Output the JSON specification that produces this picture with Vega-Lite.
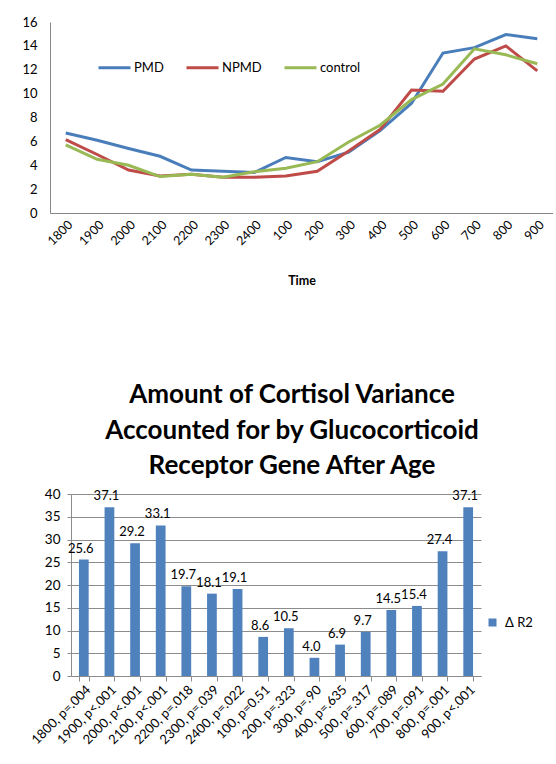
{
  "$schema": "https://vega.github.io/schema/vega-lite/v6.json",
  "padding": {"left": 21, "top": 16, "right": 0, "bottom": 0},
  "background": "white",
  "config": {
    "font": "Lato",
    "view": {"stroke": null},
    "axis": {"labelColor": "#000000", "titleColor": "#000000", "domain": true, "domainWidth": 1, "domainColor": "#8c8c8c", "tickColor": "#8c8c8c", "labelFont": "Lato", "titleFont": "Lato"},
    "legend": {"labelColor": "#000000", "labelFont": "Lato"}
  },
  "resolve": {"scale": {"color": "independent"}, "legend": {"color": "independent"}},
  "spacing": 95,
  "vconcat": [
    {
      "width": 503,
      "height": 191,
      "data": {"values": [
        {"Time": "1800", "Series": "PMD", "Value": 6.7},
        {"Time": "1900", "Series": "PMD", "Value": 6.1},
        {"Time": "2000", "Series": "PMD", "Value": 5.4},
        {"Time": "2100", "Series": "PMD", "Value": 4.75},
        {"Time": "2200", "Series": "PMD", "Value": 3.6},
        {"Time": "2300", "Series": "PMD", "Value": 3.5},
        {"Time": "2400", "Series": "PMD", "Value": 3.4},
        {"Time": "100", "Series": "PMD", "Value": 4.65},
        {"Time": "200", "Series": "PMD", "Value": 4.3},
        {"Time": "300", "Series": "PMD", "Value": 5.1},
        {"Time": "400", "Series": "PMD", "Value": 6.9},
        {"Time": "500", "Series": "PMD", "Value": 9.2},
        {"Time": "600", "Series": "PMD", "Value": 13.4},
        {"Time": "700", "Series": "PMD", "Value": 13.85},
        {"Time": "800", "Series": "PMD", "Value": 14.95},
        {"Time": "900", "Series": "PMD", "Value": 14.6},
        {"Time": "1800", "Series": "NPMD", "Value": 6.15},
        {"Time": "1900", "Series": "NPMD", "Value": 4.9},
        {"Time": "2000", "Series": "NPMD", "Value": 3.6},
        {"Time": "2100", "Series": "NPMD", "Value": 3.1},
        {"Time": "2200", "Series": "NPMD", "Value": 3.25},
        {"Time": "2300", "Series": "NPMD", "Value": 3.0},
        {"Time": "2400", "Series": "NPMD", "Value": 3.0},
        {"Time": "100", "Series": "NPMD", "Value": 3.1},
        {"Time": "200", "Series": "NPMD", "Value": 3.5},
        {"Time": "300", "Series": "NPMD", "Value": 5.2},
        {"Time": "400", "Series": "NPMD", "Value": 7.0},
        {"Time": "500", "Series": "NPMD", "Value": 10.3},
        {"Time": "600", "Series": "NPMD", "Value": 10.2},
        {"Time": "700", "Series": "NPMD", "Value": 12.9},
        {"Time": "800", "Series": "NPMD", "Value": 14.0},
        {"Time": "900", "Series": "NPMD", "Value": 11.9},
        {"Time": "1800", "Series": "control", "Value": 5.7},
        {"Time": "1900", "Series": "control", "Value": 4.5},
        {"Time": "2000", "Series": "control", "Value": 4.0},
        {"Time": "2100", "Series": "control", "Value": 3.05},
        {"Time": "2200", "Series": "control", "Value": 3.25},
        {"Time": "2300", "Series": "control", "Value": 3.0},
        {"Time": "2400", "Series": "control", "Value": 3.45},
        {"Time": "100", "Series": "control", "Value": 3.75},
        {"Time": "200", "Series": "control", "Value": 4.3},
        {"Time": "300", "Series": "control", "Value": 5.95},
        {"Time": "400", "Series": "control", "Value": 7.35},
        {"Time": "500", "Series": "control", "Value": 9.5},
        {"Time": "600", "Series": "control", "Value": 10.8},
        {"Time": "700", "Series": "control", "Value": 13.75},
        {"Time": "800", "Series": "control", "Value": 13.25},
        {"Time": "900", "Series": "control", "Value": 12.5}
      ]},
      "mark": {"type": "line", "strokeWidth": 3},
      "encoding": {
        "x": {
          "field": "Time", "type": "ordinal",
          "sort": ["1800","1900","2000","2100","2200","2300","2400","100","200","300","400","500","600","700","800","900"],
          "scale": {"type": "point", "padding": 0.5},
          "axis": {"title": "Time", "titleFontWeight": "bold", "titleFontSize": 12.5, "titlePadding": 27, "labelAngle": -45, "labelFontSize": 12.5, "ticks": false, "grid": false, "labelPadding": 5, "domain": true, "domainColor": "#868686", "domainWidth": 1}
        },
        "y": {
          "field": "Value", "type": "quantitative",
          "scale": {"domain": [0, 16]},
          "axis": {"title": null, "values": [0,2,4,6,8,10,12,14,16], "ticks": false, "grid": false, "labelPadding": 13, "labelFontSize": 13, "domain": true, "domainColor": "#868686", "domainWidth": 1}
        },
        "color": {
          "field": "Series", "type": "nominal",
          "scale": {"domain": ["PMD", "NPMD", "control"], "range": ["#4A7EBB", "#BE4B48", "#98B954"]},
          "legend": {"orient": "none", "legendX": 47, "legendY": 28, "direction": "horizontal", "title": null, "symbolType": "stroke", "symbolSize": 1024, "symbolStrokeWidth": 3, "labelFontSize": 13, "labelOffset": 2, "columnPadding": 16}
        }
      }
    },
    {
      "spacing": 0,
      "bounds": "flush",
      "hconcat": [
        {
          "width": 21,
          "height": 1,
          "data": {"values": []},
          "mark": "point",
          "encoding": {}
        },
        {
          "width": 410,
          "height": 182,
          "title": {
            "text": ["Amount of Cortisol Variance", "Accounted for by Glucocorticoid", "Receptor Gene After Age"],
            "fontSize": 26, "fontWeight": "bold", "font": "Lato", "lineHeight": 35.5, "anchor": "middle", "frame": "group", "dx": 16, "offset": 8, "color": "#000000"
          },
          "data": {"values": [
            {"Label": "1800, p=.004", "Value": 25.6},
            {"Label": "1900, p<.001", "Value": 37.1},
            {"Label": "2000, p<.001", "Value": 29.2},
            {"Label": "2100, p<.001", "Value": 33.1},
            {"Label": "2200, p=.018", "Value": 19.7},
            {"Label": "2300, p=.039", "Value": 18.1},
            {"Label": "2400, p=.022", "Value": 19.1},
            {"Label": "100, p=0.51", "Value": 8.6},
            {"Label": "200, p=.323", "Value": 10.5},
            {"Label": "300, p=.90", "Value": 4.0},
            {"Label": "400, p=.635", "Value": 6.9},
            {"Label": "500, p=.317", "Value": 9.7},
            {"Label": "600, p=.089", "Value": 14.5},
            {"Label": "700, p=.091", "Value": 15.4},
            {"Label": "800, p=.001", "Value": 27.4},
            {"Label": "900, p<.001", "Value": 37.1}
          ]},
          "encoding": {
            "x": {
              "field": "Label", "type": "nominal", "sort": null,
              "scale": {"paddingInner": 0.62, "paddingOuter": 0.31},
              "axis": {"title": null, "labelAngle": -45, "labelFontSize": 13, "tickBand": "extent", "tickSize": 5, "labelPadding": 2, "grid": false}
            },
            "y": {
              "field": "Value", "type": "quantitative",
              "scale": {"domain": [0, 40]},
              "axis": {"title": null, "values": [0,5,10,15,20,25,30,35,40], "grid": true, "gridColor": "#8c8c8c", "tickSize": 4, "labelPadding": 7, "labelFontSize": 13.5}
            }
          },
          "layer": [
            {
              "mark": {"type": "bar"},
              "encoding": {
                "y": {"field": "Value", "type": "quantitative"},
                "color": {
                  "datum": "Δ R2", "type": "nominal",
                  "scale": {"range": ["#4F81BD"]},
                  "legend": {"orient": "none", "legendX": 436, "legendY": 122, "title": null, "symbolType": "square", "symbolSize": 64, "labelFontSize": 13, "labelOffset": 6}
                }
              }
            },
            {
              "mark": {"type": "text", "baseline": "bottom", "dy": -4, "dx": -3, "fontSize": 13, "color": "#000000"},
              "encoding": {
                "y": {"field": "Value", "type": "quantitative"},
                "text": {"field": "Value", "type": "quantitative", "format": ".1f"}
              }
            }
          ]
        }
      ]
    }
  ]
}
